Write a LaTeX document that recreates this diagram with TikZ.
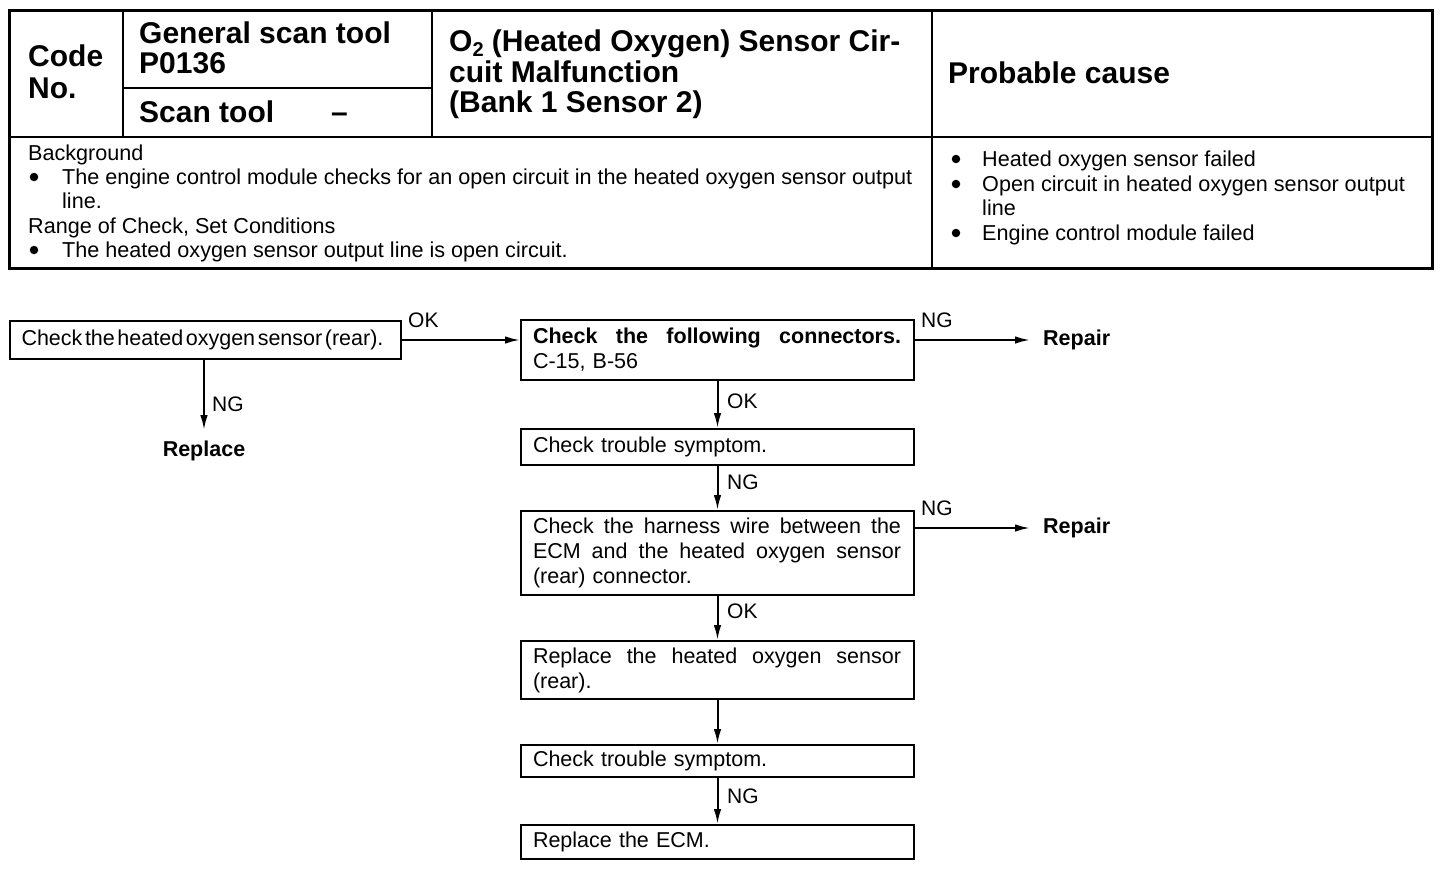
\documentclass[tikz,border=0pt]{standalone}
\usepackage{fontspec}
\setmainfont{Liberation Sans}
\usetikzlibrary{arrows.meta}
\newcommand{\jline}[1]{\makebox[368pt][s]{\spaceskip=0pt\xspaceskip=0pt #1}}
\begin{document}
\begin{tikzpicture}[x=1pt,y=-1pt,
  hdr/.style={font=\fontsize{30}{30}\selectfont\bfseries, anchor=base west, inner sep=0pt},
  bgt/.style={font=\fontsize{21.6}{24}\selectfont, anchor=base west, inner sep=0pt},
  dot/.style={circle, fill, inner sep=0pt, minimum size=8.5pt},
  lab/.style={font=\fontsize{21}{24}\selectfont, anchor=base west, inner sep=0pt},
  res/.style={font=\fontsize{21.5}{24}\selectfont\bfseries, inner sep=0pt},
  flowbox/.style={draw, line width=2pt, minimum width=393pt, text width=369pt, inner xsep=12pt, inner ysep=0pt, align=left, font=\fontsize{21.5}{25}\selectfont},
  tbl/.style={line width=2pt},
  arr/.style={line width=2pt, -{Latex[length=15pt,width=7.5pt]}}
]
\useasboundingbox (0,0) rectangle (1456,884);
% ---------- table ----------
\draw[line width=3pt] (9,10) rectangle (1432,268);
\draw[tbl] (9,137) -- (1432,137);
\draw[tbl] (123,10) -- (123,137);
\draw[tbl] (432,10) -- (432,137);
\draw[tbl] (932,10) -- (932,268);
\draw[tbl] (123,88) -- (432,88);
\node[hdr] (code) at (28,66) {Code};
\node[hdr] (no) at (28,98) {No.};
\node[hdr] (gst) at (139,43) {General scan tool};
\node[hdr] (pcode) at (139,73) {P0136};
\node[hdr] (st) at (139,122) {Scan tool};
\node[hdr] (dash) at (331,122) {–};
\node[hdr] (t1) at (449,51) {O\raisebox{-5pt}{\fontsize{20}{20}\selectfont 2} (Heated Oxygen) Sensor Cir-};
\node[hdr] (t2) at (449,82) {cuit Malfunction};
\node[hdr] (t3) at (449,112) {(Bank 1 Sensor 2)};
\node[hdr] (pc) at (948,83) {Probable cause};
% background
\node[bgt] (bg1) at (28,160) {Background};
\node[dot] (bu1) at (34,177) {};
\node[bgt] (bg2) at (62,184) {The engine control module checks for an open circuit in the heated oxygen sensor output};
\node[bgt] (bg3) at (62,208) {line.};
\node[bgt] (bg4) at (28,233) {Range of Check, Set Conditions};
\node[dot] (bu2) at (34,250) {};
\node[bgt] (bg5) at (62,257) {The heated oxygen sensor output line is open circuit.};
% probable causes
\node[dot] (bu3) at (956,159) {};
\node[bgt] (pc1) at (982,166) {Heated oxygen sensor failed};
\node[dot] (bu4) at (956,184) {};
\node[bgt] (pc2) at (982,191) {Open circuit in heated oxygen sensor output};
\node[bgt] (pc3) at (982,215) {line};
\node[dot] (bu5) at (956,233) {};
\node[bgt] (pc4) at (982,240) {Engine control module failed};
% ---------- flowchart ----------
\node[flowbox, minimum width=388pt, text width=367pt, minimum height=38pt] (b1) at (205,340) {{\spaceskip=2.6pt Check the heated oxygen sensor (rear).}};
\node[flowbox, minimum height=60pt] (b2) at (717.5,350) {\jline{\bfseries Check the following connectors.}\\C-15, B-56};
\node[flowbox, minimum height=36pt] (b3) at (717.5,447) {Check trouble symptom.};
\node[flowbox, minimum height=84pt] (b4) at (717.5,553) {\jline{Check the harness wire between the}\\\jline{ECM and the heated oxygen sensor}\\(rear) connector.};
\node[flowbox, minimum height=58pt] (b5) at (717.5,670) {\jline{Replace the heated oxygen sensor}\\(rear).};
\node[flowbox, minimum height=32pt] (b6) at (717.5,761) {Check trouble symptom.};
\node[flowbox, minimum height=34pt] (b7) at (717.5,842) {Replace the ECM.};
\node[res, anchor=north] (rep) at (204,441) {Replace};
\node[res, anchor=west, inner xsep=13pt] (r1) at (1030,340) {Repair};
\node[res, anchor=west, inner xsep=13pt] (r2) at (1030,528) {Repair};
\draw[arr] (b1.east) -- (b1.east -| b2.west);
\draw[arr] (b1.south -| rep.north) -- ([yshift=11pt]rep.north);
\draw[arr] (b2.east |- r1.west) -- (r1.west);
\draw[arr] (b4.east |- r2.west) -- (r2.west);
\draw[arr] (b2.south) -- (b3.north);
\draw[arr] (b3.south) -- (b4.north);
\draw[arr] (b4.south) -- (b5.north);
\draw[arr] (b5.south) -- (b6.north);
\draw[arr] (b6.south) -- (b7.north);
% labels
\node[lab] (l1) at (408,327) {OK};
\node[lab] (l2) at (212,411) {NG};
\node[lab] (l3) at (921,327) {NG};
\node[lab] (l4) at (727,408) {OK};
\node[lab] (l5) at (727,489) {NG};
\node[lab] (l6) at (921,515) {NG};
\node[lab] (l7) at (727,618) {OK};
\node[lab] (l8) at (727,803) {NG};
\end{tikzpicture}
\end{document}
